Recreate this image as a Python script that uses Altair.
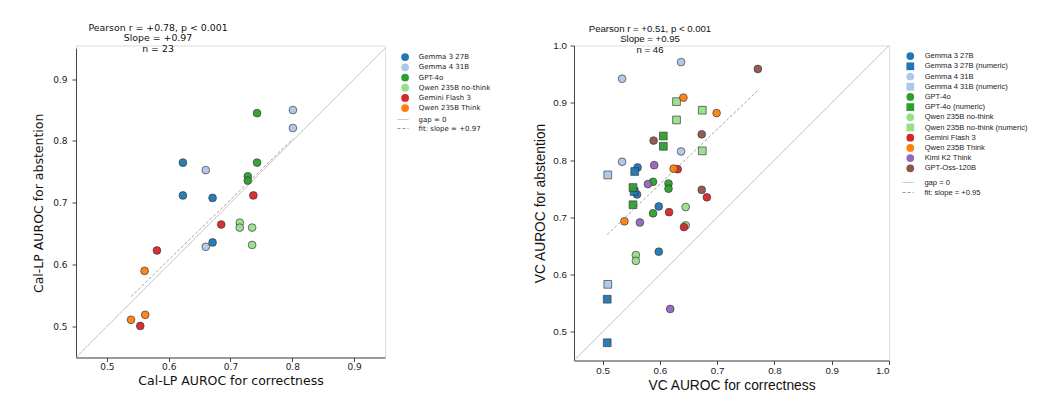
import altair as alt
import pandas as pd

# ---------------- Left panel: Cal-LP ----------------
lp_order = ["Gemma 3 27B", "Gemma 4 31B", "GPT-4o", "Qwen 235B no-think",
            "Gemini Flash 3", "Qwen 235B Think"]
lp_colors = ["#1f77b4", "#aec7e8", "#2ca02c", "#98df8a", "#d62728", "#ff7f0e"]
lp_shapes = ["circle"] * 6
lp_series = (["Gemma 3 27B"] * 4 + ["Gemma 4 31B"] * 4 + ["GPT-4o"] * 4
             + ["Qwen 235B no-think"] * 4 + ["Gemini Flash 3"] * 4 + ["Qwen 235B Think"] * 3)
lp_x = [0.623, 0.623, 0.671, 0.671,
        0.801, 0.801, 0.660, 0.660,
        0.743, 0.743, 0.728, 0.728,
        0.715, 0.715, 0.735, 0.735,
        0.737, 0.685, 0.581, 0.554,
        0.561, 0.562, 0.539]
lp_y = [0.765, 0.712, 0.708, 0.636,
        0.850, 0.821, 0.753, 0.629,
        0.845, 0.765, 0.743, 0.736,
        0.668, 0.660, 0.660, 0.632,
        0.712, 0.665, 0.623, 0.501,
        0.590, 0.519, 0.511]
lp_lines = ["gap = 0", "fit: slope = +0.97"]
lp_domain = [0.45, 0.95]
lp_ticks = [0.5, 0.6, 0.7, 0.8, 0.9]
lp_annot = ["Pearson r = +0.78, p < 0.001", "Slope = +0.97", "n = 23"]
lp_xtitle = "Cal-LP AUROC for correctness"
lp_ytitle = "Cal-LP AUROC for abstention"

# ---------------- Right panel: VC ----------------
vc_order = ["Gemma 3 27B", "Gemma 3 27B (numeric)", "Gemma 4 31B", "Gemma 4 31B (numeric)",
            "GPT-4o", "GPT-4o (numeric)", "Qwen 235B no-think", "Qwen 235B no-think (numeric)",
            "Gemini Flash 3", "Qwen 235B Think", "Kimi K2 Think", "GPT-Oss-120B"]
vc_colors = ["#1f77b4", "#1f77b4", "#aec7e8", "#aec7e8", "#2ca02c", "#2ca02c",
             "#98df8a", "#98df8a", "#d62728", "#ff7f0e", "#9467bd", "#8c564b"]
vc_shapes = ["circle", "square", "circle", "square", "circle", "square",
             "circle", "square", "circle", "circle", "circle", "circle"]
vc_series = (["Gemma 3 27B"] * 4 + ["Gemma 3 27B (numeric)"] * 4
             + ["Gemma 4 31B"] * 4 + ["Gemma 4 31B (numeric)"] * 2
             + ["GPT-4o"] * 4 + ["GPT-4o (numeric)"] * 4
             + ["Qwen 235B no-think"] * 4 + ["Qwen 235B no-think (numeric)"] * 4
             + ["Gemini Flash 3"] * 4 + ["Qwen 235B Think"] * 4
             + ["Kimi K2 Think"] * 4 + ["GPT-Oss-120B"] * 4)
vc_x = [0.561, 0.560, 0.598, 0.598,
        0.556, 0.555, 0.508, 0.508,
        0.637, 0.534, 0.534, 0.637,
        0.509, 0.509,
        0.588, 0.615, 0.615, 0.588,
        0.606, 0.606, 0.553, 0.553,
        0.645, 0.645, 0.558, 0.558,
        0.629, 0.629, 0.674, 0.674,
        0.631, 0.682, 0.616, 0.642,
        0.641, 0.699, 0.624, 0.538,
        0.590, 0.579, 0.565, 0.618,
        0.771, 0.589, 0.673, 0.673]
vc_y = [0.787, 0.740, 0.719, 0.640,
        0.780, 0.745, 0.557, 0.481,
        0.971, 0.942, 0.797, 0.815,
        0.774, 0.583,
        0.762, 0.759, 0.750, 0.707,
        0.842, 0.824, 0.752, 0.722,
        0.718, 0.686, 0.634, 0.624,
        0.902, 0.870, 0.887, 0.816,
        0.784, 0.735, 0.709, 0.683,
        0.909, 0.882, 0.785, 0.693,
        0.791, 0.758, 0.691, 0.540,
        0.959, 0.834, 0.845, 0.748]
vc_lines = ["gap = 0", "fit: slope = +0.95"]
vc_domain = [0.45, 1.0]
vc_ticks = [0.5, 0.6, 0.7, 0.8, 0.9, 1.0]
vc_annot = ["Pearson r = +0.51, p < 0.001", "Slope = +0.95", "n = 46"]
vc_xtitle = "VC AUROC for correctness"
vc_ytitle = "VC AUROC for abstention"


def panel(series, xs, ys, order, colors, shapes, lines, domain, ticks, annot,
          xtitle, ytitle, W, H, y_top, font, tick_fs, title_fs, annot_fs, leg_fs,
          annot_x, annot_top, ylab_pad, ytitle_pad,
          leg_x, leg_y, leg_off, ln_x, ln_y, ln_off):
    df = pd.DataFrame({"x": xs, "y": ys, "series": series})
    xscale = alt.Scale(domain=domain, nice=False, zero=False)
    yscale = alt.Scale(domain=domain, nice=False, zero=False, range=[H, y_top])
    ax_common = dict(values=ticks, format=".1f", grid=False, domainColor="#333333",
                     domainWidth=0.9, tickColor="#333333", tickWidth=0.9, tickSize=4,
                     labelFont=font, labelFontSize=tick_fs, labelColor="#222222",
                     titleFont=font, titleFontSize=title_fs, titleFontWeight="normal",
                     titleColor="#111111")
    xax = alt.Axis(title=xtitle, labelPadding=1, titlePadding=3, **ax_common)
    yax = alt.Axis(title=ytitle, labelPadding=ylab_pad, titlePadding=ytitle_pad, **ax_common)

    pt_legend = alt.Legend(title=None, orient="none", legendX=leg_x, legendY=leg_y,
                           labelFont=font, labelFontSize=leg_fs, labelColor="#222222",
                           symbolSize=60, symbolStrokeColor="#333333", symbolStrokeWidth=0.7,
                           symbolOpacity=1, rowPadding=-0.8, labelOffset=leg_off, padding=0,
                           labelLimit=300)
    ln_legend = alt.Legend(title=None, orient="none", legendX=ln_x, legendY=ln_y,
                           symbolType="stroke",
                           labelFont=font, labelFontSize=leg_fs, labelColor="#222222",
                           symbolSize=121, symbolStrokeWidth=1, rowPadding=0,
                           labelOffset=ln_off, padding=0, labelLimit=300)

    line_stroke = alt.Stroke("line:N", scale=alt.Scale(domain=lines, range=["#bbbbbb", "#999999"]),
                             legend=ln_legend)
    line_dash = alt.StrokeDash("line:N", scale=alt.Scale(domain=lines, range=[[1, 0], [3, 2]]),
                               legend=ln_legend)

    gap = alt.Chart(pd.DataFrame({"x": domain, "y": domain, "line": [lines[0]] * 2})).mark_line(
        strokeWidth=1).encode(
        x=alt.X("x:Q", scale=xscale, axis=xax), y=alt.Y("y:Q", scale=yscale, axis=yax),
        stroke=line_stroke, strokeDash=line_dash)

    fit = alt.Chart(df).transform_regression("x", "y").transform_calculate(
        line=f"'{lines[1]}'").mark_line(strokeWidth=0.9).encode(
        x=alt.X("x:Q", scale=xscale), y=alt.Y("y:Q", scale=yscale),
        stroke=line_stroke, strokeDash=line_dash)

    pts = alt.Chart(df).mark_point(filled=True, size=60, stroke="#333333", strokeWidth=0.7,
                                   opacity=0.95).encode(
        x=alt.X("x:Q", scale=xscale),
        y=alt.Y("y:Q", scale=yscale),
        fill=alt.Fill("series:N", scale=alt.Scale(domain=order, range=colors), legend=pt_legend),
        shape=alt.Shape("series:N", scale=alt.Scale(domain=order, range=shapes), legend=pt_legend),
    )

    txt = alt.Chart(pd.DataFrame({"t": ["\n".join(annot)]})).mark_text(
        lineBreak="\n", align="center", baseline="top", font=font, fontSize=annot_fs,
        lineHeight=10.7, color="#111111").encode(
        text="t:N", x=alt.value(annot_x), y=alt.value(annot_top))

    return alt.layer(gap, fit, pts, txt).resolve_scale(
        fill="independent", shape="independent").properties(width=W, height=H)


left = panel(lp_series, lp_x, lp_y, lp_order, lp_colors, lp_shapes, lp_lines, lp_domain,
             lp_ticks, lp_annot, lp_xtitle, lp_ytitle, 309, 312, 2.7, "DejaVu Sans",
             9, 12.5, 9.4, 7, 82, -21.8, 5, 7,
             324.6, 7.1, 9.15, 321, 68, 9.5)
right = panel(vc_series, vc_x, vc_y, vc_order, vc_colors, vc_shapes, vc_lines, vc_domain,
              vc_ticks, vc_annot, vc_xtitle, vc_ytitle, 315, 315, 0, "Liberation Sans",
              9.8, 13.8, 9.6, 7.6, 76, -21.8, 3.6, 5,
              331.8, 6.1, 9.85, 328.1, 131, 10.3)

chart = alt.hconcat(left, right, spacing=41).resolve_scale(
    fill="independent", shape="independent", stroke="independent", strokeDash="independent"
).properties(
    padding={"top": 13.5, "left": 24, "right": 0, "bottom": 0}
).configure_view(stroke=None).configure(background="white")

chart.save("out.html", embed_options={"renderer": "svg", "actions": False})
